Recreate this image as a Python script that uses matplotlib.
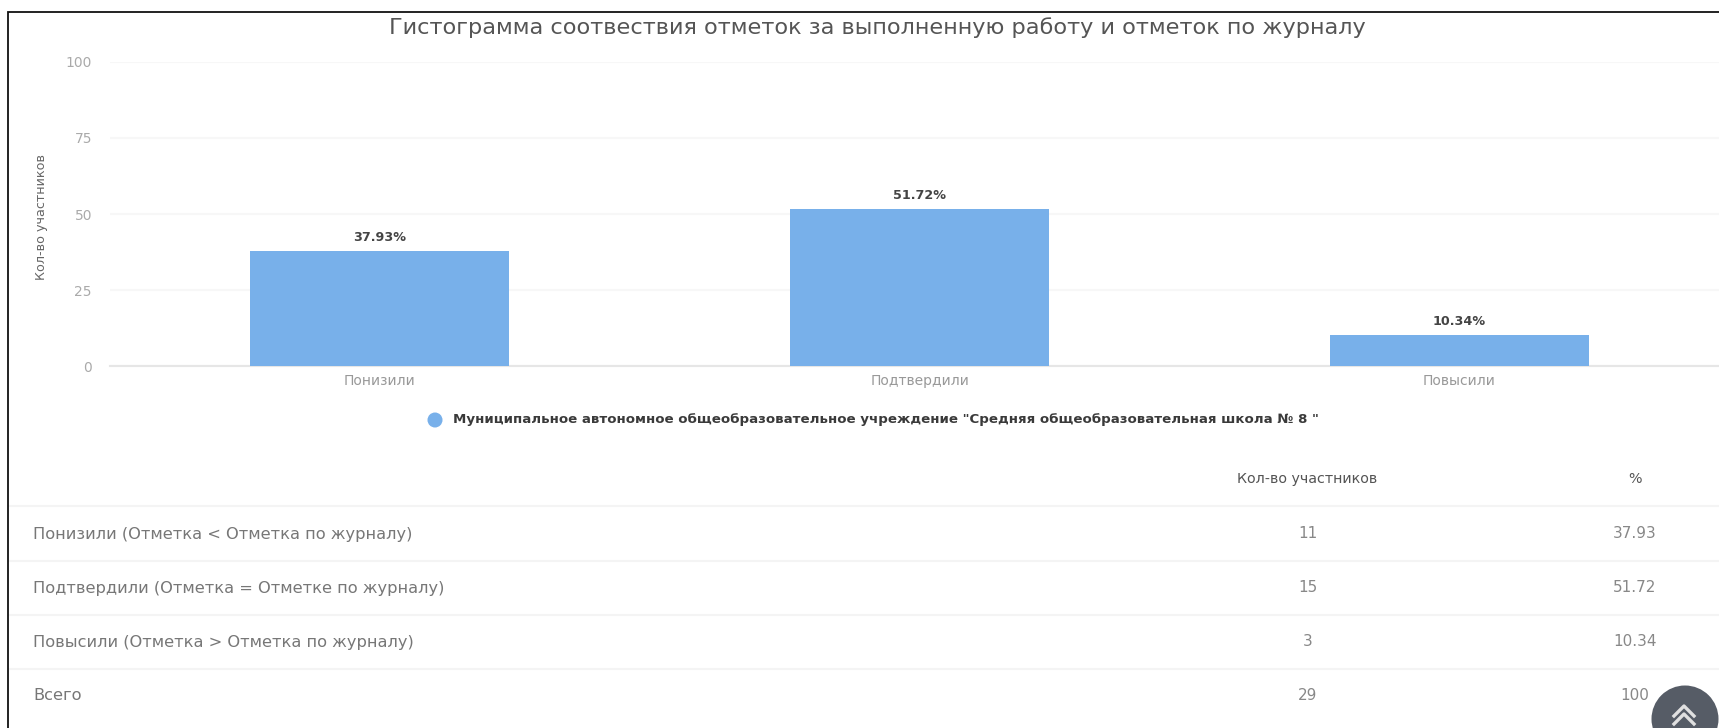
import matplotlib
matplotlib.use("Agg")
import matplotlib.pyplot as plt
from matplotlib.patches import Circle

plt.rcParams['font.family'] = ['DejaVu Sans']

W, H = 1719, 728

title = "Гистограмма соотвествия отметок за выполненную работу и отметок по журналу"
categories = ["Понизили", "Подтвердили", "Повысили"]
percents = [37.93, 51.72, 10.34]
bar_labels = ["37.93%", "51.72%", "10.34%"]
y_ticks = [0, 25, 50, 75, 100]
y_label = "Кол-во участников"
legend_label = 'Муниципальное автономное общеобразовательное учреждение "Средняя общеобразовательная школа № 8 "'

row_names = [
    "Понизили (Отметка < Отметка по журналу)",
    "Подтвердили (Отметка = Отметке по журналу)",
    "Повысили (Отметка > Отметка по журналу)",
    "Всего",
]
row_counts = ["11", "15", "3", "29"]
row_percents = ["37.93", "51.72", "10.34", "100"]

BAR = "#78b0ea"

fig = plt.figure(figsize=(W / 100, H / 100), dpi=100, facecolor="white")

# page layer in pixel coordinates, for everything around the chart
page = fig.add_axes([0, 0, 1, 1])
page.set_xlim(0, W)
page.set_ylim(H, 0)
page.axis("off")

page.plot([8, 8, W], [H, 12, 12], color="#111111", lw=1.3, solid_joinstyle="miter", zorder=3)
page.text(877, 28, title, ha="center", va="center", fontsize=16.1, color="#555555")

# legend
page.add_patch(Circle((435, 420), 7.5, color=BAR, lw=0))
page.text(453, 420, legend_label, ha="left", va="center", fontsize=9.65,
          fontweight="bold", color="#3a3a3a")

# table
for y in [506, 561, 615, 669]:
    page.plot([9, W], [y, y], color="#f4f4f4", lw=1.5)
page.text(1307, 479, "Кол-во участников", ha="center", va="center", fontsize=10.3,
          color="#555555")
page.text(1635, 479, "%", ha="center", va="center", fontsize=10.3, color="#555555")
for i, y in enumerate([534, 588, 642, 696]):
    page.text(33, y, row_names[i], ha="left", va="center", fontsize=11.7, color="#777777")
    page.text(1308, y, row_counts[i], ha="center", va="center", fontsize=11, color="#888888")
    page.text(1635, y, row_percents[i], ha="center", va="center", fontsize=11, color="#888888")

# scroll up button
page.add_patch(Circle((1685, 719), 33.5, color="#565c66", lw=0, zorder=4))
page.plot([1674, 1684, 1694], [716, 706, 716], color="#e0e0e0", lw=2.4, zorder=5)
page.plot([1674, 1684, 1694], [724, 714, 724], color="#e0e0e0", lw=2.4, zorder=5)

# chart, the right end of its plot area runs off the picture
left, right, top, bottom = 110, W, 62, 366
ax = fig.add_axes([left / W, 1 - bottom / H, (right - left) / W, (bottom - top) / H])
ax.patch.set_alpha(0)
ax.set_xlim(-0.5, 2.481)
ax.set_ylim(0, 100)
ax.bar(range(3), percents, width=0.48, color=BAR, zorder=3)
for i, p in enumerate(percents):
    ax.annotate(bar_labels[i], (i, p), xytext=(0, 7), textcoords="offset pixels",
                ha="center", va="bottom", fontsize=9.2, fontweight="bold", color="#444444")

ax.set_yticks(y_ticks)
ax.set_xticks(range(3))
ax.set_xticklabels(categories, fontsize=10, color="#999999")
ax.tick_params(axis="both", length=0)
ax.tick_params(axis="x", pad=6)
ax.tick_params(axis="y", pad=13, labelsize=10, labelcolor="#aaaaaa")
ax.grid(axis="y", color="#f7f7f7", lw=1.5, zorder=0)
for side in ["top", "right", "left"]:
    ax.spines[side].set_visible(False)
ax.spines["bottom"].set_color("#e6e6e6")
ax.spines["bottom"].set_linewidth(1.5)
ax.set_ylabel(y_label, fontsize=9.2, color="#666666", va="center")
ax.yaxis.set_label_coords((41 - left) / (right - left), 0.49)

fig.savefig("out.png", dpi=100)
